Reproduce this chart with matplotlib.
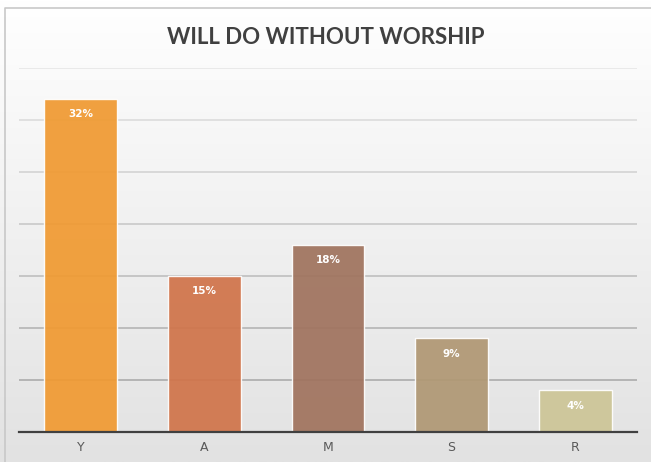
import numpy as np
import matplotlib
matplotlib.use("Agg")
import matplotlib.pyplot as plt
from matplotlib.colors import to_rgb

categories = ["Y", "A", "M", "S", "R"]
values = [32, 15, 18, 9, 4]
labels = ["32%", "15%", "18%", "9%", "4%"]
colors = ["#f09a32", "#d0744a", "#a0735e", "#b09874", "#cdc597"]
title = "WILL DO WITHOUT WORSHIP"

fig = plt.figure(figsize=(6.51, 4.62), dpi=100)

# background gradient
bg = fig.add_axes([0, 0, 1, 1], zorder=-10)
grad = np.linspace(0, 1, 256).reshape(-1, 1)
top = np.array(to_rgb("#ffffff"))
bot = np.array(to_rgb("#e2e2e2"))
img = top[None, None, :] * (1 - grad[..., None]) + bot[None, None, :] * grad[..., None]
bg.imshow(img, aspect="auto", extent=[0, 1, 0, 1], origin="upper")
bg.set_xlim(0, 1); bg.set_ylim(0, 1)
bg.plot([5/651, 5/651, 1.01], [-0.01, 1 - 8/462, 1 - 8/462], color="#c8c8c8", lw=1.2,
        transform=bg.transAxes, clip_on=False)
bg.axis("off")

ax = fig.add_axes([19/651, 1 - 432/462, (637 - 19)/651, (432 - 68)/462])
ax.patch.set_alpha(0)
x = np.arange(len(categories))
bars = ax.bar(x, values, width=0.59, color=colors, alpha=0.93, edgecolor=(1, 1, 1, 0.35),
              linewidth=1, zorder=3)
ax.set_xlim(-0.5, len(categories) - 0.5)
ax.set_ylim(0, 35)
ax.set_yticks(np.arange(0, 36, 5))
ax.yaxis.grid(True, zorder=0)
glines = ax.get_ygridlines()
n = len(glines)
for i, gl in enumerate(glines):
    t = i / (n - 1)
    c = np.array(to_rgb("#a2a2a2")) * (1 - t) + np.array(to_rgb("#e6e6e6")) * t
    gl.set_color(c)
    gl.set_linewidth(1.2)
ax.tick_params(axis="y", left=False, labelleft=False)
ax.tick_params(axis="x", bottom=False, labelsize=9, labelcolor="#595959", pad=3)
ax.set_xticks(x)
ax.set_xticklabels(categories)
for s in ["top", "right", "left"]:
    ax.spines[s].set_visible(False)
ax.spines["bottom"].set_color("#404040")
ax.spines["bottom"].set_linewidth(1.6)
ax.spines["bottom"].set_zorder(4)

for b, lab in zip(bars, labels):
    ax.annotate(lab, (b.get_x() + b.get_width() / 2, b.get_height()), xytext=(0, -11),
                textcoords="offset points", ha="center", va="center", color="white",
                fontsize=7.5, fontweight="bold", zorder=5)

fig.text(0.5, 1 - 37/462, title, ha="center", va="center", fontsize=16,
         fontweight="bold", color="#404040", family="Lato")

fig.savefig("out.png", dpi=100)
